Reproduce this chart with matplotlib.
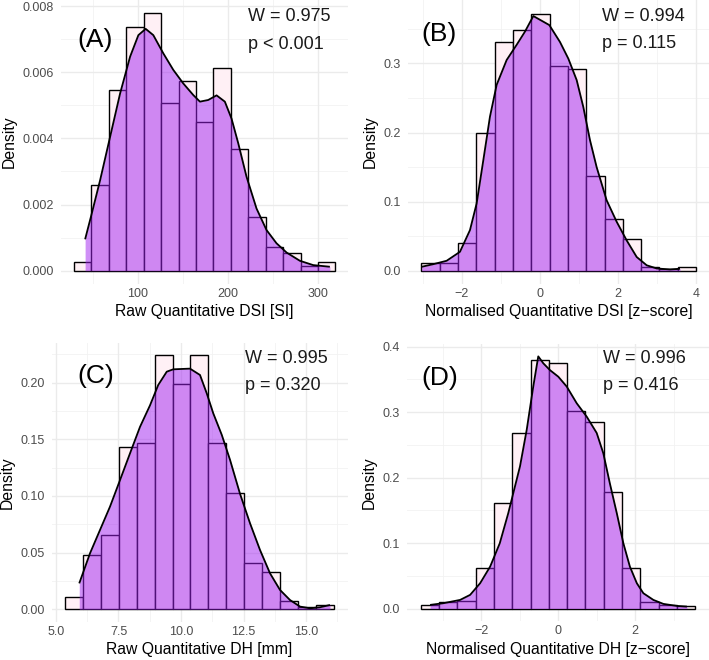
import numpy as np
import matplotlib
matplotlib.use("Agg")
import matplotlib.pyplot as plt

plt.rcParams['font.family'] = ['Liberation Sans', 'DejaVu Sans']

# ---- data ----
# (A) raw DSI
a_start, a_width = 29.4, 19.36
a_hist = [0.00027, 0.00259, 0.00546, 0.00736, 0.00778, 0.00506, 0.00573, 0.00450,
          0.00613, 0.00368, 0.00163, 0.00071, 0.00054, 0.00015, 0.00027]
a_kx = [41.7, 49.1, 58.4, 69.5, 80.6, 91.7, 100.9, 109.0, 117.5, 128.6, 139.7, 150.8,
        161.9, 169.3, 178.5, 187.8, 197.0, 204.4, 211.9, 221.1, 232.2, 243.3, 254.4,
        265.6, 280.4, 295.2, 313.7]
a_ky = [0.00095, 0.00173, 0.00274, 0.00405, 0.00536, 0.00647, 0.00712, 0.00731, 0.00712,
        0.00657, 0.00607, 0.00566, 0.00531, 0.00511, 0.00516, 0.00530, 0.00511, 0.00460,
        0.00385, 0.00284, 0.00188, 0.00123, 0.00083, 0.00055, 0.00030, 0.00017, 0.00012]

# (B) normalised DSI
b_start, b_width = -3.03, 0.468
b_hist = [0.011, 0.0106, 0.040, 0.200, 0.331, 0.349, 0.371, 0.297, 0.292, 0.1365,
          0.0748, 0.0458, 0.0058, 0.0019, 0.0058]
b_kx = [-3.026, -2.728, -2.387, -2.046, -1.790, -1.620, -1.449, -1.279, -1.108, -0.852,
        -0.596, -0.384, -0.170, 0.239, 0.512, 0.725, 0.938, 1.108, 1.279, 1.449, 1.705,
        1.961, 2.217, 2.473, 2.729, 2.985, 3.325, 3.581]
b_ky = [0.0058, 0.0096, 0.0145, 0.0275, 0.0589, 0.0974, 0.160, 0.223, 0.269, 0.305,
        0.327, 0.346, 0.3686, 0.3555, 0.331, 0.307, 0.276, 0.237, 0.189, 0.150, 0.102,
        0.071, 0.044, 0.020, 0.008, 0.0034, 0.002, 0.003]

# (C) raw DH
c_start, c_width = 5.36, 0.717
c_hist = [0.0112, 0.048, 0.066, 0.143, 0.147, 0.224, 0.1985, 0.224, 0.147, 0.103,
          0.0406, 0.0332, 0.0076, 0.0018, 0.0038]
c_kx = [5.93, 6.36, 6.76, 7.16, 7.56, 7.96, 8.36, 8.76, 9.09, 9.43, 9.69, 10.36, 10.76,
        11.03, 11.29, 11.63, 11.96, 12.36, 12.76, 13.16, 13.56, 13.96, 14.36, 14.76,
        15.16, 15.56, 15.96]
c_ky = [0.0229, 0.0494, 0.070, 0.0906, 0.114, 0.1376, 0.161, 0.180, 0.198, 0.2097,
        0.2118, 0.2124, 0.2068, 0.1906, 0.173, 0.154, 0.132, 0.102, 0.076, 0.0524,
        0.0318, 0.0171, 0.0082, 0.0024, 0.0009, 0.0018, 0.0038]

# (D) normalised DH
d_start, d_width = -3.57, 0.475
d_hist = [0.005, 0.0107, 0.011, 0.0616, 0.161, 0.268, 0.380, 0.3745, 0.302, 0.2845,
          0.1786, 0.0616, 0.0107, 0.0056, 0.004]
d_kx = [-3.33, -2.99, -2.55, -2.29, -2.03, -1.77, -1.52, -1.30, -1.17, -0.995, -0.82,
        -0.65, -0.52, -0.39, -0.216, 0.0, 0.218, 0.478, 0.738, 0.998, 1.17, 1.34, 1.52,
        1.69, 1.86, 2.04, 2.21, 2.47, 2.73, 3.07, 3.34]
d_ky = [0.0056, 0.0081, 0.0132, 0.0209, 0.0387, 0.0641, 0.0997, 0.1455, 0.176, 0.217,
        0.273, 0.339, 0.385, 0.3745, 0.364, 0.354, 0.339, 0.3135, 0.293, 0.268, 0.237,
        0.191, 0.1455, 0.0997, 0.064, 0.0387, 0.0234, 0.0132, 0.0071, 0.0041, 0.003]

W, H = 709, 660
fig = plt.figure(figsize=(W / 100, H / 100), dpi=100)


def px_axes(x0, x1, y0, y1):
    # pixel box -> figure fraction
    return fig.add_axes([x0 / W, 1 - y1 / H, (x1 - x0) / W, (y1 - y0) / H])


def panel(ax, start, width, hist, kx, ky, xlim, ylim, xmaj, xmin, ymaj, ymin, xfmt, yfmt, xlabel):
    for v in xmin:
        ax.axvline(v, color='#f2f2f2', lw=0.6, zorder=0)
    for v in ymin:
        ax.axhline(v, color='#f2f2f2', lw=0.6, zorder=0)
    for v in xmaj:
        ax.axvline(v, color='#ebebeb', lw=1.0, zorder=0)
    for v in ymaj:
        ax.axhline(v, color='#ebebeb', lw=1.0, zorder=0)
    edges = start + width * np.arange(len(hist))
    ax.bar(edges, hist, width=width, align='edge', color='#fff0f5',
           edgecolor='black', linewidth=1.0, zorder=2)
    ax.fill_between(kx, ky, 0, color='#a020f0', alpha=0.5, lw=0, zorder=3)
    ax.plot(kx, ky, color='black', lw=1.3, zorder=4, solid_capstyle='butt')
    ax.set_xlim(*xlim)
    ax.set_ylim(*ylim)
    ax.set_xticks(xmaj)
    ax.set_xticklabels([xfmt.format(v).replace('-', '\u2212') for v in xmaj])
    ax.set_yticks(ymaj)
    ax.set_yticklabels([yfmt.format(v) for v in ymaj])
    ax.tick_params(length=0, labelsize=9, labelcolor='#4d4d4d', pad=3)
    ax.tick_params(axis='y', pad=5)
    for s in ax.spines.values():
        s.set_visible(False)
    ax.set_facecolor('white')
    ax.set_xlabel(xlabel, fontsize=11.3, labelpad=3)
    ax.set_ylabel('Density', fontsize=11.3, labelpad=4)


axA = px_axes(61, 348.4, 0.4, 283.6)
panel(axA, a_start, a_width, a_hist, a_kx, a_ky, (14.9, 334.3), (-0.000389, 0.00817),
      [100, 200, 300], [50, 150, 250], [0, 0.002, 0.004, 0.006, 0.008],
      [0.001, 0.003, 0.005, 0.007], '{:.0f}', '{:.3f}', 'Raw Quantitative DSI [SI]')

axB = px_axes(407.8, 709.7, 0.4, 283.6)
panel(axB, b_start, b_width, b_hist, b_kx, b_ky, (-3.38, 4.34), (-0.0185, 0.3912),
      [-2, 0, 2, 4], [-3, -1, 1, 3], [0, 0.1, 0.2, 0.3], [0.05, 0.15, 0.25, 0.35],
      '{:.0f}', '{:.1f}', 'Normalised Quantitative DSI [z\u2212score]')

axC = px_axes(51.5, 347.5, 342.8, 622)
panel(axC, c_start, c_width, c_hist, c_kx, c_ky, (4.82, 16.66), (-0.0112, 0.2352),
      [5, 7.5, 10, 12.5, 15], [6.25, 8.75, 11.25, 13.75, 16.25],
      [0, 0.05, 0.10, 0.15, 0.20], [0.025, 0.075, 0.125, 0.175, 0.225],
      '{:.1f}', '{:.2f}', 'Raw Quantitative DH [mm]')

axD = px_axes(407, 709.2, 344, 621.2)
panel(axD, d_start, d_width, d_hist, d_kx, d_ky, (-3.93, 3.92), (-0.0193, 0.4039),
      [-2, 0, 2], [-3, -1, 1, 3], [0, 0.1, 0.2, 0.3, 0.4], [0.05, 0.15, 0.25, 0.35],
      '{:.0f}', '{:.1f}', 'Normalised Quantitative DH [z\u2212score]')

# panel letters and Shapiro-Wilk results
labels = [
    ('(A)', 77.3, 46.7, 'W = 0.975', 'p < 0.001', 248, 20.7, 49.3),
    ('(B)', 421.7, 40.7, 'W = 0.994', 'p = 0.115', 601.7, 20.7, 48.3),
    ('(C)', 77.3, 383.3, 'W = 0.995', 'p = 0.320', 245, 362.7, 390),
    ('(D)', 421.7, 385, 'W = 0.996', 'p = 0.416', 603.3, 362.7, 390),
]
for tag, tx, ty, wtxt, ptxt, sx, wy, py in labels:
    fig.text(tx / W, 1 - ty / H, tag, fontsize=19, va='baseline', ha='left', zorder=10)
    fig.text(sx / W, 1 - wy / H, wtxt, fontsize=13, va='baseline', ha='left',
             color='#1a1a1a', zorder=10)
    fig.text(sx / W, 1 - py / H, ptxt, fontsize=13, va='baseline', ha='left',
             color='#1a1a1a', zorder=10)

fig.savefig('out.png', dpi=100)
